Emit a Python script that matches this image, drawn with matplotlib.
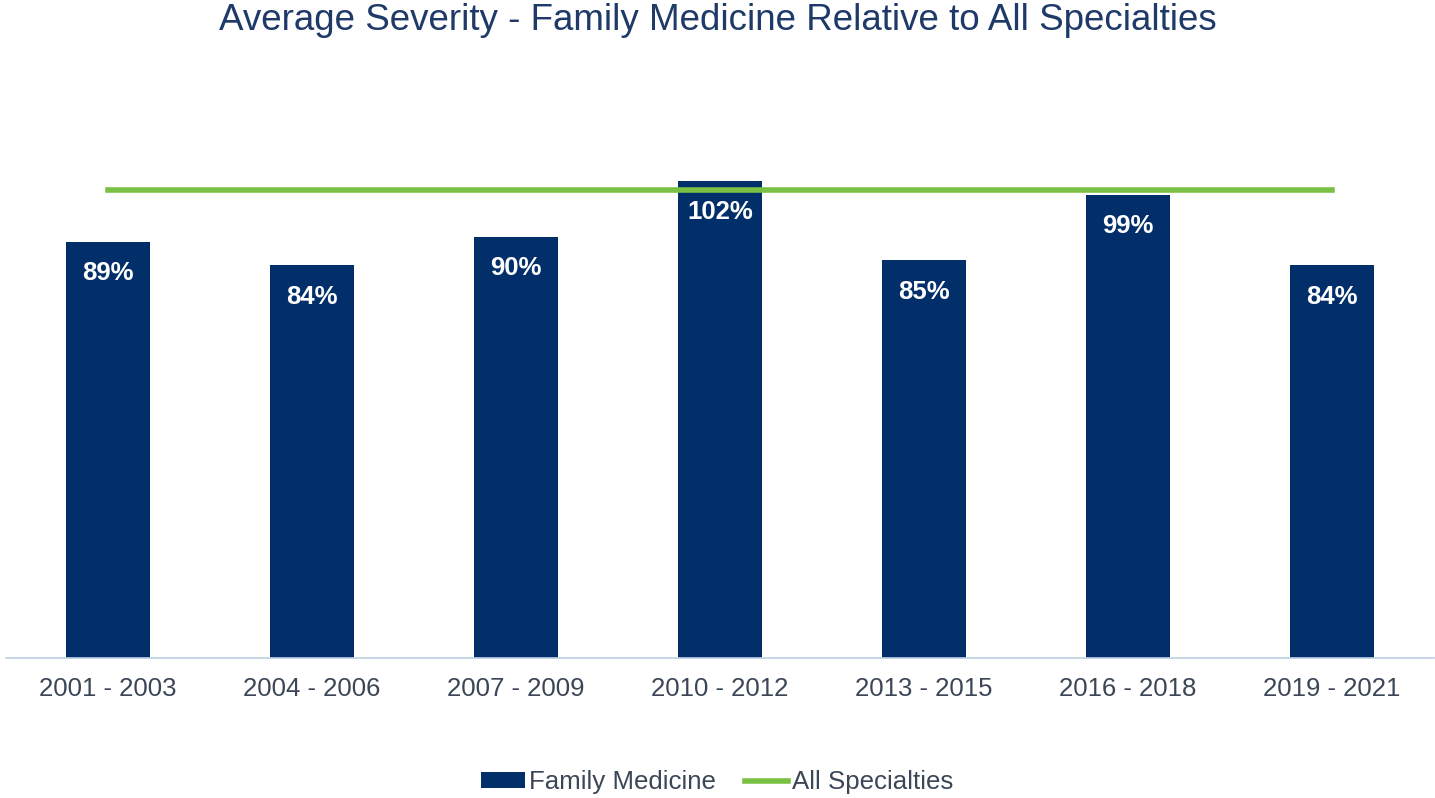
import matplotlib.pyplot as plt
from matplotlib.patches import Patch
from matplotlib.lines import Line2D

plt.rcParams['font.family'] = ['Liberation Sans', 'DejaVu Sans']

periods = ['2001 - 2003', '2004 - 2006', '2007 - 2009', '2010 - 2012',
           '2013 - 2015', '2016 - 2018', '2019 - 2021']
family_medicine = [89, 84, 90, 102, 85, 99, 84]
all_specialties = [100, 100, 100, 100, 100, 100, 100]

navy = '#022E6A'
green = '#7AC143'
text_col = '#3B4656'

fig = plt.figure(figsize=(14.35, 7.98), dpi=100)
ax = fig.add_axes([6 / 1435, 140 / 798, 1428 / 1435, 558 / 798])

x = range(len(periods))
ax.bar(x, family_medicine, width=0.41, color=navy, zorder=2)
ax.plot(x, all_specialties, color=green, linewidth=4, zorder=3,
        solid_capstyle='projecting')

# подписи значений внутри столбцов
for xi, v in zip(x, family_medicine):
    ax.annotate(f'{v}%', (xi, v), xytext=(0, -14), textcoords='offset points',
                ha='center', va='top', color='white', fontsize=18.5,
                fontweight='bold', zorder=4)

ax.set_xlim(-0.5, len(periods) - 0.5)
ax.set_ylim(0, 119.3)
ax.set_xticks(list(x))
ax.set_xticklabels(periods, fontsize=18.5, color=text_col)
ax.tick_params(axis='x', length=0, pad=14)
ax.set_yticks([])
for s in ['top', 'right', 'left']:
    ax.spines[s].set_visible(False)
ax.spines['bottom'].set_color('#BCD0E4')
ax.spines['bottom'].set_linewidth(1.2)

fig.text(0.5, 1 - 20 / 798, 'Average Severity - Family Medicine Relative to All Specialties',
         ha='center', va='center', fontsize=26.5, color='#1F3A68')

handles = [Patch(facecolor=navy, edgecolor='none'),
           Line2D([0], [0], color=green, linewidth=4)]
fig.legend(handles, ['Family Medicine', 'All Specialties'], loc='center',
           bbox_to_anchor=(0.5, 1 - 782 / 798), ncol=2, frameon=False,
           fontsize=18.6, handlelength=1.7, handleheight=0.55,
           handletextpad=0.15, columnspacing=1.1, labelcolor=text_col)

fig.savefig('out.png', dpi=100)
